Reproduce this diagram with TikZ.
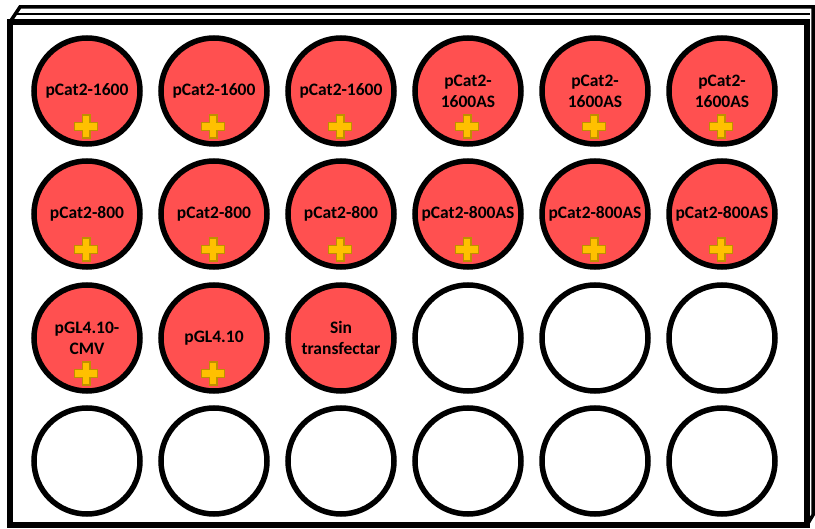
\documentclass[tikz,border=0pt]{standalone}
\usepackage{fontspec}
\setmainfont{Carlito}
\usepackage{tikz}
\usetikzlibrary{calc}
\definecolor{wellred}{HTML}{FF5050}
\definecolor{crossfill}{HTML}{FFC000}
\definecolor{crossedge}{HTML}{BF9000}
\tikzset{
  well/.style={circle,draw=black,line width=5.5pt,minimum size=106pt,inner sep=0pt,
    align=center,font=\bfseries\fontsize{17.5}{21}\selectfont},
  wellfull/.style={well,fill=wellred},
  wellempty/.style={well,fill=white},
}
% the plate, a thin box seen from the front
\newcommand{\plate}{%
  \draw[line width=3.5pt,line join=miter] (10,22) -- (20,7) -- (813,7) -- (813,515) -- (807,525);
  \draw[line width=2pt] (17,14) -- (810,14);
  \draw[line width=6pt] (10,22) rectangle (807,525);
}
% yellow plus mark below a well label
\newcommand{\crossat}[1]{%
  \filldraw[fill=crossfill,draw=crossedge,line width=1.4pt,shift={(#1.center)},shift={(-1,35.5)}]
    (-3.8,-11.5) -- (3.8,-11.5) -- (3.8,-3.8) -- (11.5,-3.8) -- (11.5,3.8) -- (3.8,3.8) -- (3.8,11.5)
    -- (-3.8,11.5) -- (-3.8,3.8) -- (-11.5,3.8) -- (-11.5,-3.8) -- (-3.8,-3.8) -- cycle;
}

\begin{document}
\begin{tikzpicture}[x=1pt,y=-1pt]
\useasboundingbox (0,0) rectangle (815,529);
\fill[white] (0,0) rectangle (815,529);
\plate
% row 1
\foreach \lbl [count=\c] in {pCat2-1600,pCat2-1600,pCat2-1600,{pCat2-\\1600AS},{pCat2-\\1600AS},{pCat2-\\1600AS}}{
  \node[wellfull] (w1\c) at ({87+127*(\c-1)},91) {\lbl};
  \crossat{w1\c}
}
% row 2
\foreach \lbl [count=\c] in {pCat2-800,pCat2-800,pCat2-800,pCat2-800AS,pCat2-800AS,pCat2-800AS}{
  \node[wellfull] (w2\c) at ({87+127*(\c-1)},214) {\lbl};
  \crossat{w2\c}
}
% row 3
\node[wellfull] (w31) at (87,338) {pGL4.10-\\CMV};
\node[wellfull] (w32) at (214,338) {pGL4.10};
\node[wellfull] (w33) at (341,338) {Sin\\transfectar};
\crossat{w31}
\crossat{w32}
\foreach \c in {4,5,6}
  \node[wellempty] (w3\c) at ({87+127*(\c-1)},338) {};
% row 4
\foreach \c in {1,...,6}
  \node[wellempty] (w4\c) at ({87+127*(\c-1)},461) {};
\end{tikzpicture}
\end{document}
